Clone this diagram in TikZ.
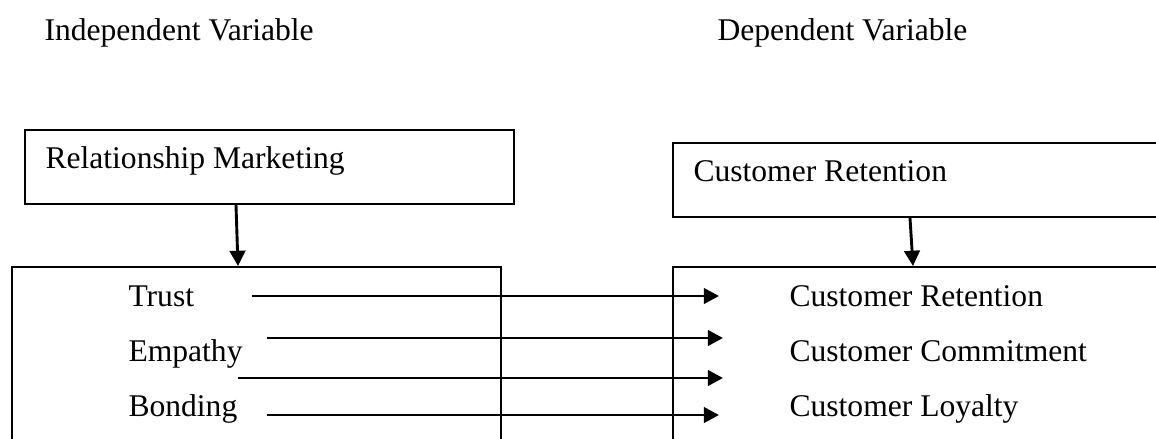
\documentclass[tikz,border=0pt]{standalone}
\usepackage{fontspec}
\setmainfont{Liberation Serif}
\usetikzlibrary{calc,arrows.meta,positioning}

\tikzset{
    frameBox/.style={draw, line width=0.8pt, inner sep=0pt, anchor=north west},
    itemText/.style={inner sep=0pt, anchor=base west},
    flowArrow/.style={line width=1.1pt, -{Triangle[length=5.8pt,width=5.9pt]}}
}

\begin{document}
\begin{tikzpicture}[x=0.38pt, y=-0.38pt, font=\fontsize{12pt}{14pt}\selectfont]
\useasboundingbox (0,0) rectangle (1156,438);
\clip (0,0) rectangle (1156,438);

%headings
\node[itemText] (indepHead) at (44,40) {Independent Variable};
\node[itemText] (depHead) at (717,40) {Dependent Variable};

%upper boxes
\node[frameBox, minimum width=185.8pt, minimum height=28.1pt] (rmBox) at (24,129) {};
\node[itemText] (rmText) at (45,168) {Relationship Marketing};
\node[frameBox, minimum width=200.6pt, minimum height=28.1pt] (crBox) at (672,142) {};
\node[itemText] (crText) at (693,181.7) {Customer Retention};

%lower boxes
\node[frameBox, minimum width=185.8pt, minimum height=88.9pt] (ivBox) at (11,266) {};
\node[frameBox, minimum width=200.6pt, minimum height=88.9pt] (dvBox) at (672,266) {};

%items
\foreach \name/\txt/\y in {trust/Trust/306.7, empathy/Empathy/361.7, bonding/Bonding/416.7}
{
    \node[itemText] (\name) at (128,\y) {\txt};
}
\foreach \name/\txt/\y in {retention/Customer Retention/306.7, commitment/Customer Commitment/361.7, loyalty/Customer Loyalty/416.5}
{
    \node[itemText] (\name) at (789,\y) {\txt};
}

%down arrows
\coordinate (rmOut) at ($(rmBox.south west)+(212,0)$);
\coordinate (ivIn) at ($(ivBox.north west)+(227,0)$);
\draw[flowArrow] (rmOut) -- (ivIn);
\coordinate (crOut) at ($(crBox.south west)+(238,0)$);
\coordinate (dvIn) at ($(dvBox.north west)+(241,0)$);
\draw[flowArrow] (crOut) -- (dvIn);

%cross arrows
\foreach \i/\xs/\xe/\y in {1/252/719/296, 2/267/723/338, 3/238/723/378, 4/267/719/415}
{
    \coordinate (arr\i s) at (\xs,\y);
    \coordinate (arr\i e) at (\xe,\y);
    \draw[flowArrow] (arr\i s) -- (arr\i e);
}

\end{tikzpicture}
\end{document}
